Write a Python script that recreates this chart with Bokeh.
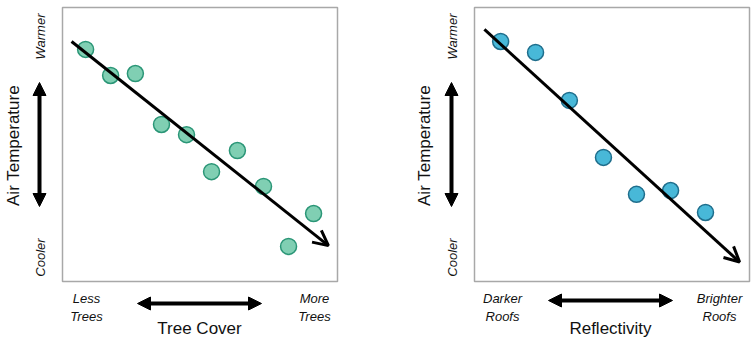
import math
from bokeh.plotting import figure
from bokeh.layouts import row
from bokeh.models import Range1d, Arrow, OpenHead, NormalHead
from bokeh.core.properties import value
from bokeh.embed import file_html
from bokeh.resources import INLINE

# ---- data (box units 0..100) ----
tree_x = [8.4, 17.5, 26.5, 36.0, 45.1, 54.2, 63.6, 73.1, 82.2, 91.3]
tree_y = [84.7, 75.2, 75.9, 57.3, 53.6, 40.1, 47.8, 34.7, 12.8, 24.8]
tree_trend_x = [3.3, 96.7]
tree_trend_y = [87.6, 13.1]

roof_x = [9.5, 22.2, 34.5, 46.9, 58.9, 71.3, 84.0]
roof_y = [87.6, 83.6, 66.1, 45.3, 31.8, 33.2, 25.2]
roof_trend_x = [3.6, 96.4]
roof_trend_y = [92.0, 7.1]

y_title = "Air Temperature"
y_hi, y_lo = "Warmer", "Cooler"
left_xtitle, left_lo, left_hi = "Tree Cover", "Less\nTrees", "More\nTrees"
right_xtitle, right_lo, right_hi = "Reflectivity", "Darker\nRoofs", "Brighter\nRoofs"

FONT = value("Liberation Sans")
W, H = 377, 341
BOX_TOP, BOX_BOTTOM = 7, 281
SX = 2.75
SY = (BOX_BOTTOM - BOX_TOP) / 100.0


def make_panel(box_left, xs, ys, trend_x, trend_y, fill, line, xtitle, lo, hi,
               title_x, tick_x, varrow_x, harrow, hy, xlabel_lo_x, xlabel_hi_x, xtitle_x):
    X = lambda px: (px - box_left) / SX
    Y = lambda py: (BOX_BOTTOM - py) / SY
    p = figure(width=W, height=H, output_backend="svg", toolbar_location=None,
               x_axis_location=None, y_axis_location=None, min_border=0,
               x_range=Range1d(X(0), X(W)), y_range=Range1d(Y(H), Y(0)))
    p.grid.visible = False
    p.outline_line_color = None
    p.background_fill_color = "white"
    p.border_fill_color = "white"

    # box
    p.quad(left=[0], right=[100], bottom=[0], top=[100], fill_color=None,
           line_color="#a8a8a8", line_width=1.5)

    # points
    p.scatter(xs, ys, size=16, fill_color=fill, line_color=line, line_width=1.5)

    # trend arrow
    p.add_layout(Arrow(x_start=trend_x[0], y_start=trend_y[0], x_end=trend_x[1], y_end=trend_y[1],
                       line_color="black", line_width=3,
                       end=OpenHead(size=15, line_width=3, line_color="black")))

    # vertical double arrow
    p.add_layout(Arrow(x_start=X(varrow_x), y_start=Y(206), x_end=X(varrow_x), y_end=Y(82),
                       line_color="black", line_width=4,
                       start=NormalHead(size=13, fill_color="black", line_color="black", line_width=1),
                       end=NormalHead(size=13, fill_color="black", line_color="black", line_width=1)))
    # horizontal double arrow
    p.add_layout(Arrow(x_start=X(harrow[0]), y_start=Y(hy), x_end=X(harrow[1]), y_end=Y(hy),
                       line_color="black", line_width=4,
                       start=NormalHead(size=13, fill_color="black", line_color="black", line_width=1),
                       end=NormalHead(size=13, fill_color="black", line_color="black", line_width=1)))

    # y title
    p.text(x=[X(title_x)], y=[Y(145)], text=[y_title], angle=math.pi / 2,
           text_font=FONT, text_font_size="17px", text_color="#111111",
           text_align="center", text_baseline="middle")
    # warmer / cooler
    p.text(x=[X(tick_x), X(tick_x)], y=[Y(36), Y(257)], text=[y_hi, y_lo], angle=math.pi / 2,
           text_font=FONT, text_font_size="13px", text_font_style="italic", text_color="#111111",
           text_align="center", text_baseline="middle")
    # x low / high labels
    p.text(x=[X(xlabel_lo_x), X(xlabel_hi_x)], y=[Y(307), Y(307)], text=[lo, hi],
           text_font=FONT, text_font_size="13px", text_font_style="italic", text_color="#111111",
           text_align="center", text_baseline="middle", text_line_height=1.25)
    # x title
    p.text(x=[X(xtitle_x)], y=[Y(328)], text=[xtitle],
           text_font=FONT, text_font_size="17px", text_color="#111111",
           text_align="center", text_baseline="middle")
    return p


left = make_panel(62, tree_x, tree_y, tree_trend_x, tree_trend_y, "#80cfb3", "#2b9677",
                  left_xtitle, left_lo, left_hi,
                  title_x=13, tick_x=40, varrow_x=39, harrow=(137, 261), hy=303,
                  xlabel_lo_x=86, xlabel_hi_x=314, xtitle_x=199)

right = make_panel(474 - 377, roof_x, roof_y, roof_trend_x, roof_trend_y, "#48b8d8", "#1f6e8c",
                   right_xtitle, right_lo, right_hi,
                   title_x=424 - 377, tick_x=452 - 377, varrow_x=451 - 377, harrow=(548 - 377, 672 - 377), hy=300,
                   xlabel_lo_x=502 - 377, xlabel_hi_x=719 - 377, xtitle_x=610 - 377)

layout = row(left, right, spacing=0)
open("out.html", "w").write(file_html(layout, INLINE))
